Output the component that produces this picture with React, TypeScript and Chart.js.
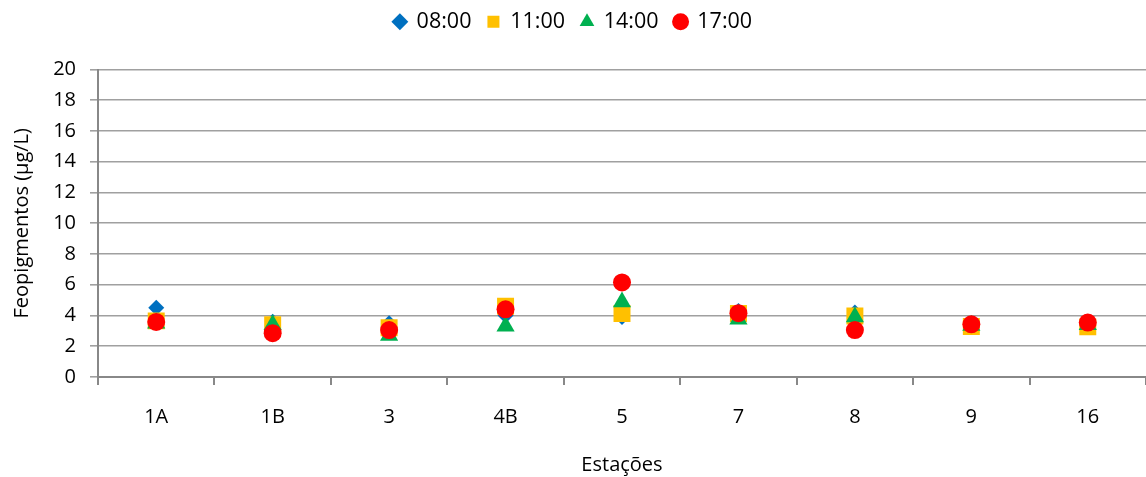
import React, { useEffect, useRef } from "react";
import { Chart, registerables } from "chart.js";

Chart.register(...registerables);

const categories = ["1A", "1B", "3", "4B", "5", "7", "8", "9", "16"];
const s0800 = [4.5, 3.6, 3.5, 4.0, 3.9, 4.3, 4.2, 3.4, 3.4];
const s1100 = [3.65, 3.4, 3.2, 4.6, 4.13, 4.13, 3.97, 3.28, 3.26];
const s1400 = [3.5, 3.4, 2.7, 3.3, 4.87, 3.75, 3.9, 3.35, 3.4];
const s1700 = [3.58, 2.85, 3.05, 4.4, 6.15, 4.15, 3.05, 3.43, 3.54];
const seriesNames = ["08:00", "11:00", "14:00", "17:00"];
const yTicks = [0, 20, 2];

const FONT = "'Open Sans', 'Liberation Sans', sans-serif";
const FS = 20;

const legendSpace = {
  id: "legendSpace",
  beforeLayout(chart: any) {
    const lg = chart.legend;
    if (lg && !lg.__patched) {
      const orig = lg.fit;
      lg.fit = function (this: any) {
        orig.call(this);
        this.height += 27;
      };
      lg.__patched = true;
    }
  },
};

export default function App() {
  const ref = useRef<HTMLCanvasElement | null>(null);
  useEffect(() => {
    document.body.style.margin = "0";
    const ctx = ref.current!.getContext("2d")!;
    const mk = (label: string, data: number[], color: string, style: any, radius: number, order: number) => ({
      label,
      data,
      type: "line" as const,
      showLine: false,
      pointStyle: style,
      pointRadius: radius,
      pointHoverRadius: radius,
      pointBackgroundColor: color,
      pointBorderColor: color,
      pointBorderWidth: 0,
      backgroundColor: color,
      borderColor: color,
      order,
    });
    const chart = new Chart(ctx, {
      type: "line",
      data: {
        labels: categories,
        datasets: [
          mk(seriesNames[0], s0800, "#0070C0", "rectRot", 8, 3),
          mk(seriesNames[1], s1100, "#FFC000", "rect", 12, 2),
          mk(seriesNames[2], s1400, "#00B050", "triangle", 10.5, 1),
          mk(seriesNames[3], s1700, "#FF0000", "circle", 9, 0),
        ],
      },
      plugins: [legendSpace],
      options: {
        animation: false,
        responsive: true,
        maintainAspectRatio: false,
        layout: { autoPadding: false, padding: { top: -5, right: 0, left: 0, bottom: 0 } },
        plugins: {
          legend: {
            position: "top",
            labels: {
              usePointStyle: true,
              boxHeight: 12,
              boxWidth: 12,
              padding: 16,
              color: "#000",
              font: { family: FONT, size: 21.5 },
              sort: (a: any, b: any) => a.datasetIndex - b.datasetIndex,
            },
          },
          tooltip: { enabled: false },
        },
        scales: {
          x: {
            type: "category",
            offset: true,
            grid: {
              display: true,
              drawOnChartArea: false,
              drawTicks: true,
              tickLength: 8,
              offset: true,
              color: "#888888",
              lineWidth: 2,
            },
            border: { display: true, color: "#888888", width: 2 },
            ticks: { color: "#000", font: { family: FONT, size: FS }, padding: 20 },
            title: { display: true, text: "Estações", color: "#000", font: { family: FONT, size: FS }, padding: { top: 4, bottom: 0 } },
            afterFit: (s: any) => { s.height = 100; s.paddingLeft = 0; s.paddingRight = 0; },
          },
          y: {
            min: yTicks[0],
            max: yTicks[1],
            ticks: { stepSize: yTicks[2], color: "#000", font: { family: FONT, size: FS }, padding: 14 },
            grid: { color: "#A0A0A0", lineWidth: 1.6, tickLength: 8 },
            border: { display: true, color: "#888888", width: 2 },
            title: { display: true, text: "Feopigmentos (µg/L)", color: "#000", font: { family: FONT, size: FS }, padding: { top: 10, bottom: 4 } },
            afterFit: (s: any) => { s.width = 98; s.paddingTop = 0; s.paddingBottom = 0; },
          },
        },
      },
    });
    return () => chart.destroy();
  }, []);
  return (
    <div style={{ position: "absolute", left: 0, top: 0, width: 1146, height: 477 }}>
      <canvas ref={ref} />
    </div>
  );
}
